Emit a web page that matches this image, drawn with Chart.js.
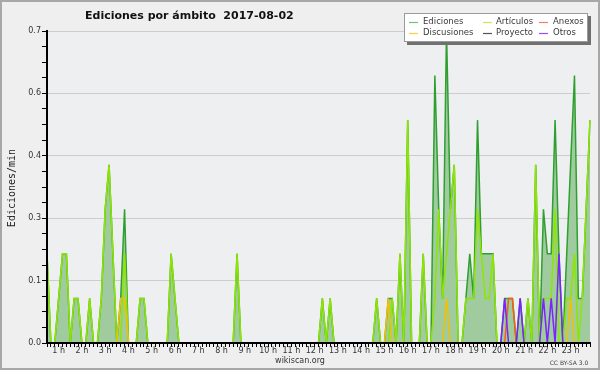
<!DOCTYPE html>
<html>
<head>
<meta charset="utf-8">
<script src="https://cdn.jsdelivr.net/npm/chart.js@4"></script>
<style>
  html, body { margin: 0; padding: 0; background: #efefef; }
</style>
</head>
<body>
<canvas id="chart" width="600" height="370"></canvas>
<script>
// Edits per minute, 10-minute buckets from 0:30 to 23:50 (one row per hour)
const ediciones = [
                  0.2, 0, 0,
    0.1, 0.2, 0.2, 0, 0.1, 0.1,
    0, 0, 0.1, 0, 0, 0.1,
    0.3, 0.4, 0.2, 0, 0.1, 0.3,
    0, 0, 0, 0.1, 0.1, 0,
    0, 0, 0, 0, 0, 0.2,
    0.1, 0, 0, 0, 0, 0,
    0, 0, 0, 0, 0, 0,
    0, 0, 0, 0, 0.2, 0,
    0, 0, 0, 0, 0, 0,
    0, 0, 0, 0, 0, 0,
    0, 0, 0, 0, 0, 0,
    0, 0, 0.1, 0, 0.1, 0,
    0, 0, 0, 0, 0, 0,
    0, 0, 0, 0, 0.1, 0,
    0, 0.1, 0.1, 0, 0.2, 0,
    0.5, 0, 0, 0, 0.2, 0,
    0, 0.6, 0.3, 0.1, 0.7, 0.3,
    0.4, 0, 0, 0.1, 0.2, 0.1,
    0.5, 0.2, 0.2, 0.2, 0.2, 0,
    0, 0.1, 0.1, 0.1, 0, 0.1,
    0, 0.1, 0, 0.4, 0, 0.3,
    0.2, 0.2, 0.5, 0.2, 0, 0.2,
    0.4, 0.6, 0.1, 0.1, 0.3, 0.5
];
const articulos = [
                  0.2, 0, 0,
    0.1, 0.2, 0.2, 0, 0.1, 0.1,
    0, 0, 0.1, 0, 0, 0.1,
    0.3, 0.4, 0.2, 0, 0, 0.2,
    0, 0, 0, 0.1, 0.1, 0,
    0, 0, 0, 0, 0, 0.2,
    0.1, 0, 0, 0, 0, 0,
    0, 0, 0, 0, 0, 0,
    0, 0, 0, 0, 0.2, 0,
    0, 0, 0, 0, 0, 0,
    0, 0, 0, 0, 0, 0,
    0, 0, 0, 0, 0, 0,
    0, 0, 0.1, 0, 0.1, 0,
    0, 0, 0, 0, 0, 0,
    0, 0, 0, 0, 0.1, 0,
    0, 0, 0.1, 0, 0.2, 0,
    0.5, 0, 0, 0, 0.2, 0,
    0, 0.1, 0.3, 0.1, 0.2, 0.3,
    0.4, 0, 0, 0.1, 0.1, 0.1,
    0.3, 0.2, 0.1, 0.1, 0.2, 0,
    0, 0, 0, 0, 0, 0,
    0, 0.1, 0, 0.4, 0, 0.1,
    0.1, 0.1, 0.3, 0, 0, 0.1,
    0.1, 0.2, 0, 0.1, 0.3, 0.5
];
const discusiones = [
                  0, 0, 0,
    0, 0, 0, 0, 0, 0,
    0, 0, 0, 0, 0, 0,
    0, 0, 0, 0, 0.1, 0.1,
    0, 0, 0, 0, 0, 0,
    0, 0, 0, 0, 0, 0,
    0, 0, 0, 0, 0, 0,
    0, 0, 0, 0, 0, 0,
    0, 0, 0, 0, 0, 0,
    0, 0, 0, 0, 0, 0,
    0, 0, 0, 0, 0, 0,
    0, 0, 0, 0, 0, 0,
    0, 0, 0, 0, 0, 0,
    0, 0, 0, 0, 0, 0,
    0, 0, 0, 0, 0, 0,
    0, 0.1, 0, 0, 0, 0,
    0, 0, 0, 0, 0, 0,
    0, 0, 0, 0, 0.1, 0,
    0, 0, 0, 0, 0, 0,
    0, 0, 0, 0, 0, 0,
    0, 0, 0, 0, 0, 0,
    0, 0, 0, 0, 0, 0,
    0, 0, 0, 0, 0, 0,
    0.1, 0, 0, 0, 0, 0
];
const anexos = [
                  0, 0, 0,
    0, 0, 0, 0, 0, 0,
    0, 0, 0, 0, 0, 0,
    0, 0, 0, 0, 0, 0,
    0, 0, 0, 0, 0, 0,
    0, 0, 0, 0, 0, 0,
    0, 0, 0, 0, 0, 0,
    0, 0, 0, 0, 0, 0,
    0, 0, 0, 0, 0, 0,
    0, 0, 0, 0, 0, 0,
    0, 0, 0, 0, 0, 0,
    0, 0, 0, 0, 0, 0,
    0, 0, 0, 0, 0, 0,
    0, 0, 0, 0, 0, 0,
    0, 0, 0, 0, 0, 0,
    0, 0, 0, 0, 0, 0,
    0, 0, 0, 0, 0, 0,
    0, 0, 0, 0, 0, 0,
    0, 0, 0, 0, 0, 0,
    0, 0, 0, 0, 0, 0,
    0, 0, 0.1, 0.1, 0, 0,
    0, 0, 0, 0, 0, 0,
    0, 0, 0, 0, 0, 0,
    0, 0, 0, 0, 0, 0
];
const proyecto = new Array(ediciones.length).fill(0);
const otros = [
                  0, 0, 0,
    0, 0, 0, 0, 0, 0,
    0, 0, 0, 0, 0, 0,
    0, 0, 0, 0, 0, 0,
    0, 0, 0, 0, 0, 0,
    0, 0, 0, 0, 0, 0,
    0, 0, 0, 0, 0, 0,
    0, 0, 0, 0, 0, 0,
    0, 0, 0, 0, 0, 0,
    0, 0, 0, 0, 0, 0,
    0, 0, 0, 0, 0, 0,
    0, 0, 0, 0, 0, 0,
    0, 0, 0, 0, 0, 0,
    0, 0, 0, 0, 0, 0,
    0, 0, 0, 0, 0, 0,
    0, 0, 0, 0, 0, 0,
    0, 0, 0, 0, 0, 0,
    0, 0, 0, 0, 0, 0,
    0, 0, 0, 0, 0, 0,
    0, 0, 0, 0, 0, 0,
    0, 0.1, 0, 0, 0, 0.1,
    0, 0, 0, 0, 0, 0.1,
    0, 0.1, 0, 0.2, 0, 0,
    0, 0, 0, 0, 0, 0
];

// time categories, 10 minutes apart
const times = [];
for (let m = 30; m <= 1430; m += 10) {
    times.push(Math.floor(m / 60) + ':' + String(m % 60).padStart(2, '0'));
}

const yTicks = [0, 0.14, 0.28, 0.42, 0.56, 0.7];
const yTickLabels = ['0.0', '0.1', '0.3', '0.4', '0.6', '0.7'];

const legendItems = [
    { label: 'Ediciones',   color: '#6fc66f', col: 0, row: 0 },
    { label: 'Artículos',   color: '#c8ec4a', col: 1, row: 0 },
    { label: 'Anexos',      color: '#f58050', col: 2, row: 0 },
    { label: 'Discusiones', color: '#f8d040', col: 0, row: 1 },
    { label: 'Proyecto',    color: '#555555', col: 1, row: 1 },
    { label: 'Otros',       color: '#9a4cf0', col: 2, row: 1 }
];

Chart.defaults.font.family = '"DejaVu Sans", sans-serif';

const decor = {
    id: 'decor',
    beforeDraw(chart) {
        const { ctx, chartArea: a } = chart;
        ctx.save();
        ctx.fillStyle = '#efefef';
        ctx.fillRect(0, 0, chart.width, chart.height);
        ctx.fillStyle = '#eeeff1';
        ctx.fillRect(a.left, a.top, a.right - a.left, a.bottom - a.top);
        ctx.restore();
    },
    afterDraw(chart) {
        const ctx = chart.ctx;
        ctx.save();
        // outer frame
        ctx.strokeStyle = '#a8a8a8';
        ctx.lineWidth = 2;
        ctx.strokeRect(1, 1, chart.width - 2, chart.height - 2);

        // title
        ctx.fillStyle = '#111';
        ctx.font = 'bold 11px "DejaVu Sans"';
        ctx.textBaseline = 'middle';
        ctx.textAlign = 'left';
        ctx.fillText('Ediciones por ámbito  2017-08-02', 85, 16);

        // legend box with shadow
        ctx.fillStyle = '#707070';
        ctx.fillRect(407, 16, 184, 29);
        ctx.fillStyle = '#ffffff';
        ctx.fillRect(404, 13, 184, 29);
        ctx.strokeStyle = '#9a9a9a';
        ctx.lineWidth = 1;
        ctx.strokeRect(404.5, 13.5, 183, 28);
        const lineX = [409, 483, 539];
        const textX = [423, 496, 553];
        const rowY = [22, 33];
        ctx.font = '8.5px "DejaVu Sans"';
        legendItems.forEach(it => {
            const y = rowY[it.row];
            ctx.strokeStyle = it.color;
            ctx.lineWidth = 1.2;
            ctx.beginPath();
            ctx.moveTo(lineX[it.col], y + 0.5);
            ctx.lineTo(lineX[it.col] + 9, y + 0.5);
            ctx.stroke();
            ctx.fillStyle = '#3a3a3a';
            ctx.fillText(it.label, textX[it.col], y);
        });

        // y axis title
        ctx.save();
        ctx.translate(12, 188);
        ctx.rotate(-Math.PI / 2);
        ctx.textAlign = 'center';
        ctx.font = '10px "DejaVu Sans Mono"';
        ctx.fillStyle = '#222';
        ctx.fillText('Ediciones/min', 0, 0);
        ctx.restore();

        // footer
        ctx.textAlign = 'center';
        ctx.font = '8px "DejaVu Sans"';
        ctx.fillStyle = '#333';
        ctx.fillText('wikiscan.org', 300, 361);
        ctx.font = '6px "DejaVu Sans"';
        ctx.fillStyle = '#444';
        ctx.fillText('CC BY-SA 3.0', 569, 363);
        ctx.restore();
    }
};

const ctx = document.getElementById('chart').getContext('2d');
const chart = new Chart(ctx, {
    type: 'line',
    data: {
        labels: times,
        datasets: [
            { label: 'Otros', data: otros, borderColor: '#7a22ff', order: 1 },
            { label: 'Anexos', data: anexos, borderColor: '#ff5a14', order: 2 },
            { label: 'Discusiones', data: discusiones, borderColor: '#f2c000', order: 3 },
            { label: 'Proyecto', data: proyecto, borderColor: '#555555', order: 4 },
            { label: 'Artículos', data: articulos, borderColor: '#8ee600', order: 5 },
            {
                label: 'Ediciones',
                data: ediciones,
                borderColor: '#2f9f2f',
                backgroundColor: '#9fcb9f',
                fill: 'origin',
                order: 6
            }
        ]
    },
    options: {
        responsive: false,
        animation: false,
        devicePixelRatio: 1,
        layout: { padding: { top: 31, right: 10, left: 0, bottom: 0 } },
        elements: {
            line: { tension: 0, borderWidth: 1.5 },
            point: { radius: 0 }
        },
        plugins: {
            legend: { display: false },
            tooltip: { enabled: false },
            title: { display: false }
        },
        scales: {
            x: {
                type: 'category',
                offset: false,
                afterFit: (scale) => { scale.height = 27; },
                grid: {
                    drawOnChartArea: false,
                    drawTicks: true,
                    tickLength: 4,
                    tickColor: '#000',
                    offset: false
                },
                border: { display: true, color: '#000', width: 2, z: 1 },
                ticks: {
                    autoSkip: false,
                    maxRotation: 0,
                    minRotation: 0,
                    padding: -1,
                    color: '#333',
                    font: { size: 8 },
                    callback: function (value) {
                        const lbl = this.getLabelForValue(value);
                        const parts = lbl.split(':');
                        return parts[1] === '00' ? parts[0] + ' h' : '';
                    }
                }
            },
            y: {
                min: 0,
                max: 0.7,
                afterFit: (scale) => { scale.width = 47; },
                afterBuildTicks: (scale) => {
                    const t = [];
                    for (let k = 0; k < yTicks.length; k++) {
                        t.push({ value: yTicks[k] });
                        if (k < yTicks.length - 1) {
                            const step = (yTicks[k + 1] - yTicks[k]) / 4;
                            for (let j = 1; j < 4; j++) t.push({ value: yTicks[k] + j * step });
                        }
                    }
                    scale.ticks = t;
                },
                grid: {
                    color: (c) => (c.tick && c.tick.value > 0 && yTicks.includes(c.tick.value)) ? '#cdcdcd' : 'rgba(0,0,0,0)',
                    tickColor: '#000',
                    tickLength: 5,
                    lineWidth: 1
                },
                border: { display: true, color: '#000', width: 2, z: 1 },
                ticks: {
                    padding: 1,
                    color: '#333',
                    font: { size: 8 },
                    callback: (value) => {
                        const k = yTicks.indexOf(value);
                        return k >= 0 ? yTickLabels[k] : '';
                    }
                }
            }
        }
    },
    plugins: [decor]
});
</script>
</body>
</html>
